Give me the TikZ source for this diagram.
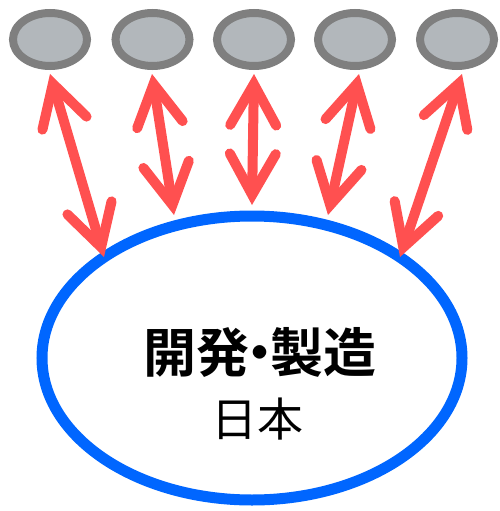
\documentclass[tikz,border=0pt]{standalone}
\usepackage{fontspec}
\newfontfamily\jpb{Noto Sans CJK JP Bold}
\newfontfamily\jpr{Noto Sans CJK JP}
\usetikzlibrary{shapes.geometric,arrows.meta}
\definecolor{arrred}{HTML}{FF5050}
\definecolor{bigblue}{HTML}{0066FF}
\definecolor{smallgray}{HTML}{B2B7BB}
\definecolor{smalledge}{HTML}{7F7F7F}
\tikzset{
  smallell/.style={ellipse, draw=smalledge, fill=smallgray, line width=8pt,
    minimum width=74pt, minimum height=53pt, inner sep=0pt},
  bigell/.style={ellipse, draw=bigblue, fill=white, line width=11pt,
    minimum width=420pt, minimum height=284pt, inner sep=0pt},
  barbtip/.tip={Straight Barb[length=41pt, width=46pt, line cap=round, line join=miter]},
  dblarrow/.style={draw=arrred, line width=10pt, {barbtip}-{barbtip}},
}
\begin{document}
\begin{tikzpicture}[x=1pt, y=-1pt]
\useasboundingbox (0,0) rectangle (500,511);
\node[bigell] (big) at (252,358) {};
\node[smallell] (s1) at (50,39.5) {};
\node[smallell] (s2) at (152.5,39.5) {};
\node[smallell] (s3) at (254,39.5) {};
\node[smallell] (s4) at (355,39.5) {};
\node[smallell] (s5) at (457,39.5) {};
\node[font=\jpb\fontsize{53}{56}\selectfont] (title) at (260,352) {開発\kern-0.3em・\kern-0.3em製造};
\node[font=\jpr\fontsize{46}{50}\selectfont] (sub) at (257,419) {日本};
\coordinate (t1) at (50,74);
\coordinate (t2) at (152,74);
\coordinate (t3) at (254,74);
\coordinate (t4) at (359,74);
\coordinate (t5) at (462,74);
\coordinate (b1) at (104,257);
\coordinate (b2) at (174,215);
\coordinate (b3) at (252,205);
\coordinate (b4) at (328,215);
\coordinate (b5) at (400,257);
\foreach \i in {1,...,5} {
  \draw[dblarrow] (t\i) -- (b\i);
}
\end{tikzpicture}
\end{document}
